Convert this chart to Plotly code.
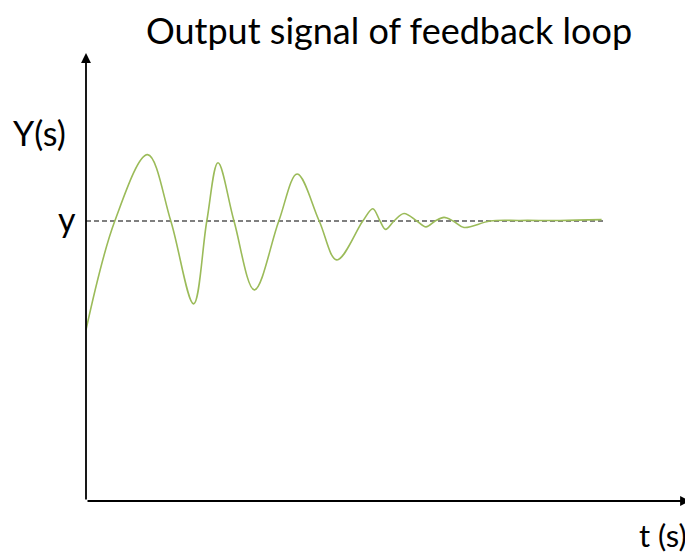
import plotly.graph_objects as go

# Response curve (time in arbitrary s units, output normalised so set-point y = 1)
t_vals = [0.0, 0.72, 1.54, 2.12, 2.69, 3.02, 3.30, 3.70, 4.21, 4.82, 5.28, 5.83, 6.27,
          6.92, 7.17, 7.35, 7.49, 7.70, 7.95, 8.27, 8.50, 8.73, 8.95, 9.18, 9.45,
          10.10, 10.85, 11.85, 12.89]
y_vals = [0.611, 1.0, 1.237, 1.0, 0.704, 1.0, 1.208, 1.0, 0.754, 1.0, 1.168, 1.0, 0.861,
          1.0, 1.044, 1.0, 0.970, 1.0, 1.027, 1.0, 0.979, 1.0, 1.013, 1.0, 0.977,
          1.0, 1.002, 1.002, 1.005]

setpoint = 1.0
setpoint_t = [0.0, 12.98]

title_text = "Output signal of feedback loop"
y_axis_label = "Y(s)"
x_axis_label = "t (s)"
setpoint_label = "y"

# page is offset by the browser's 8px body margin, so the figure covers page px 8..693 / 8..554
W, H = 685, 546
x_range = [(8 - 86) / 40, (693 - 86) / 40]
y_range = [(501 - 554) / 280, (501 - 8) / 280]
x_tip = (690 - 86) / 40
y_tip = (501 - 53) / 280

FONT = "Lato, Open Sans, sans-serif"


def px_x(p):
    return (p - 86) / 40


def px_y(p):
    return (501 - p) / 280


fig = go.Figure()

fig.add_trace(go.Scatter(
    x=setpoint_t, y=[setpoint, setpoint], mode="lines",
    line=dict(color="#555555", width=1.3, dash="5px,3px"),
    hoverinfo="skip", showlegend=False))

fig.add_trace(go.Scatter(
    x=t_vals, y=y_vals, mode="lines",
    line=dict(color="#9BBB59", width=1.6, shape="spline", smoothing=1.0),
    showlegend=False))

# axes with arrows
fig.add_annotation(x=x_tip, y=0, ax=0, ay=0, xref="x", yref="y", axref="x", ayref="y",
                   showarrow=True, arrowhead=2, arrowsize=1.1, arrowwidth=1.8,
                   arrowcolor="#000000", text="")
fig.add_annotation(x=0, y=y_tip, ax=0, ay=0, xref="x", yref="y", axref="x", ayref="y",
                   showarrow=True, arrowhead=2, arrowsize=1.1, arrowwidth=1.8,
                   arrowcolor="#000000", text="")

# labels
fig.add_annotation(x=px_x(39), y=px_y(132), xref="x", yref="y",
                   text=y_axis_label, showarrow=False,
                   font=dict(family=FONT, size=34, color="#000000"))
fig.add_annotation(x=px_x(67), y=px_y(218), xref="x", yref="y",
                   text=setpoint_label, showarrow=False,
                   font=dict(family=FONT, size=34, color="#000000"))
fig.add_annotation(x=px_x(663), y=px_y(535), xref="x", yref="y",
                   text=x_axis_label, showarrow=False,
                   font=dict(family=FONT, size=31, color="#000000"))

fig.update_layout(
    width=W, height=H,
    margin=dict(l=0, r=0, t=0, b=0),
    paper_bgcolor="white", plot_bgcolor="white",
    title=dict(text=title_text, x=(389 - 8) / W, xanchor="center",
               y=(554 - 31) / H, yanchor="middle",
               font=dict(family=FONT, size=36, color="#000000")),
    xaxis=dict(range=x_range, visible=False, fixedrange=True),
    yaxis=dict(range=y_range, visible=False, fixedrange=True),
    showlegend=False,
)

fig.write_html("out.html")
